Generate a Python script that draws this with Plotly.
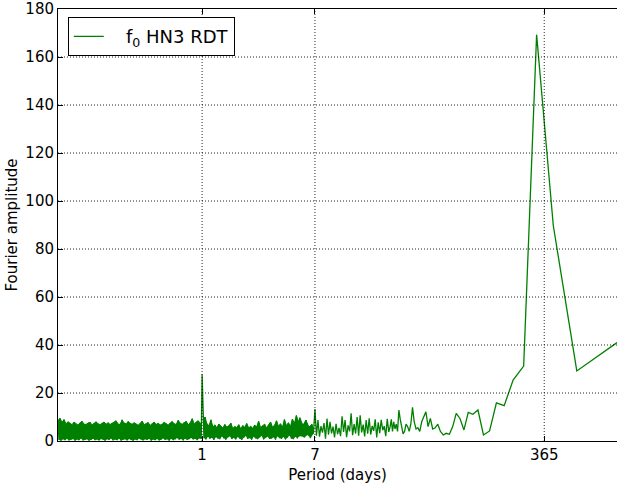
import numpy as np
import plotly.graph_objects as go

# Hourly record: shortest resolvable period is 2 h, longest is the record length
RECORD_DAYS = 1280.0
NYQUIST_PERIOD = 2.0 / 24.0

# Sub-daily band (2 h .. ~1 day): alternating local maxima / minima of the amplitude
a1_peaks = [
    8.5, 9.5, 7.8, 8.9, 7.2, 8.0,
    7.4, 6.8, 7.9, 7.1, 6.6, 7.6, 8.2, 7.0, 6.9, 7.5,
    7.8, 6.7, 7.3, 8.0, 7.2, 6.8, 7.4, 7.9, 7.0, 7.6,
    6.9, 7.3,
    7.7, 8.4, 7.1, 6.9, 8.8, 7.5, 7.2, 8.1, 7.4, 7.0,
    7.6, 7.0, 6.6, 7.3, 8.3, 6.8, 7.1, 7.7, 6.5, 7.2,
    7.9, 6.9, 7.4, 6.7, 7.0, 7.8, 7.3, 6.6, 7.5, 8.1,
    7.2, 6.9, 8.6, 7.4, 7.0, 7.8, 8.2, 6.8, 7.6, 9.3, 7.1, 7.9, 8.4, 7.5,
]
a1_troughs = [
    0.4, 0.1, 0.7, 0.3, 0.9, 0.2, 0.5, 0.8, 0.1, 0.6,
    0.3, 1.0, 0.2, 0.5, 0.7, 0.1, 0.4, 0.9, 0.3, 0.6,
    0.2, 0.8, 0.5, 0.1, 0.7, 0.4, 1.0, 0.2, 0.6, 0.3,
    0.9, 0.1, 0.5, 0.7, 0.2, 0.8, 0.4, 0.1, 0.6, 0.3,
    1.0, 0.5, 0.2, 0.7, 0.4, 0.9, 0.1, 0.6, 0.3, 0.8,
    0.2, 0.5, 1.1, 0.4, 0.7, 0.1, 0.9, 0.3, 0.6, 1.2,
    0.5, 0.8, 0.2, 1.0, 0.4, 0.7, 1.3, 0.6, 0.9, 0.3,
    1.1, 0.8,
]

# Diurnal line
diurnal_period = 1.0
diurnal_amp = 27.8

# 1 day .. ~5.4 days
a2_peaks = [
    8.5, 10.0, 7.2, 6.4, 8.8, 5.9, 6.7, 5.5, 7.1, 6.2,
    5.4, 6.9, 5.8, 6.3, 7.5, 5.2, 6.0, 5.6, 6.8, 5.1,
    6.4, 5.7, 7.3, 5.5, 6.1, 5.3, 6.6, 5.9, 8.2, 5.6,
    6.3, 7.0, 5.4, 6.8, 7.9, 5.8, 6.5, 8.4, 6.1, 7.2,
    5.7, 8.9, 6.4, 7.6, 6.0, 9.1, 7.3, 10.6, 8.0,
]
a2_troughs = [
    1.2, 0.6, 1.8, 0.9, 1.4, 0.4, 1.6, 1.0, 0.7, 1.9,
    1.1, 0.5, 1.5, 2.0, 0.8, 1.3, 0.6, 1.7, 1.0, 0.4,
    1.4, 2.1, 0.9, 1.2, 0.5, 1.8, 1.1, 0.7, 1.5, 2.2,
    0.6, 1.3, 1.9, 0.8, 1.0, 1.6, 0.5, 2.0, 1.2, 0.9,
    1.7, 0.6, 1.4, 2.3, 1.0, 0.7, 1.8, 1.1, 2.0,
]

# ~5.4 .. 25 days (alternating maxima / minima)
mid_amp = [
    9.7, 2.0, 6.5, 1.5, 8.7, 2.5, 5.8, 1.2, 7.0, 3.0,
    13.3, 2.2, 8.7, 1.8, 6.2, 3.5, 7.5, 1.0, 9.3, 2.6,
    8.0, 3.2, 6.0, 1.5, 7.2, 2.8, 5.5, 2.0, 10.3, 3.8,
    8.7, 1.6, 6.5, 4.0, 11.5, 2.4, 7.0, 3.1, 10.0, 2.2,
    10.7, 3.6, 6.8, 1.9, 8.7, 3.0, 9.5, 2.7, 6.3, 4.2,
    9.0, 1.5, 7.8, 3.3, 8.8, 4.5, 6.2, 2.0, 9.2, 3.8,
]
MID_SOLID = 10  # leading mid values that still merge into a solid band

# Lowest harmonics k = 1 .. 50 (period = RECORD_DAYS / k)
low_harmonic_amp = [
    41.0, 29.2, 89.8, 169.3, 31.2, 25.4, 14.7, 15.9, 4.2, 2.5,
    12.9, 11.1, 11.9, 4.6, 9.4, 11.5, 6.0, 2.8, 3.2, 2.5,
    4.0, 7.0, 5.5, 5.0, 9.4, 6.0, 12.2, 10.0, 8.0, 4.0,
    5.5, 5.0, 8.0, 14.0, 7.0, 4.0, 6.0, 7.0, 4.0, 3.0,
    5.0, 9.0, 12.9, 4.0, 7.0, 5.0, 8.0, 4.0, 9.0, 6.0,
]

x_ticks = [1, 7, 365]
x_ticktext = ["1", "7", "365"]
y_ticks = list(range(0, 181, 20))
x_minor = ([0.09] + [m * 0.1 for m in range(2, 10)] + [m for m in range(2, 10) if m != 7]
           + [m * 10 for m in range(2, 10)] + [m * 100 for m in range(2, 10)])

GREEN = "#008000"
NBSP = "\u00a0"


def interleave(hi, lo):
    return np.column_stack((hi, lo)).ravel()


a1_amp = interleave(a1_peaks, a1_troughs)
a2_amp = interleave(a2_peaks, a2_troughs)
a1_period = np.geomspace(NYQUIST_PERIOD, 0.985, len(a1_amp))
a2_period = np.geomspace(1.015, 5.35, len(a2_amp))
mid_period = np.geomspace(5.4, 25.0, len(mid_amp))
harmonic = np.arange(1, len(low_harmonic_amp) + 1)
low_period = RECORD_DAYS / harmonic

period = np.concatenate([a1_period, [diurnal_period], a2_period, mid_period, low_period[::-1]])
amplitude = np.concatenate([a1_amp, [diurnal_amp], a2_amp, mid_amp, np.array(low_harmonic_amp)[::-1]])

FONT = dict(family="DejaVu Sans", size=15, color="black")
x_range = [np.log10(NYQUIST_PERIOD), np.log10(RECORD_DAYS)]

fig = go.Figure()

# Densely sampled part of the spectrum: shade between the minima and the maxima
band_sections = [
    (a1_period, a1_amp),
    (np.concatenate([a2_period, mid_period[:MID_SOLID]]),
     np.concatenate([a2_amp, mid_amp[:MID_SOLID]])),
]
for per, amp in band_sections:
    fig.add_trace(go.Scatter(
        x=per[1::2], y=amp[1::2], mode="lines", line=dict(width=0, color=GREEN),
        showlegend=False, hoverinfo="skip",
    ))
    fig.add_trace(go.Scatter(
        x=per[0::2], y=amp[0::2], mode="lines", line=dict(width=1, color=GREEN),
        fill="tonexty", fillcolor=GREEN, showlegend=False, hoverinfo="skip",
    ))

fig.add_trace(go.Scatter(
    x=period, y=amplitude, mode="lines",
    line=dict(color=GREEN, width=1.3),
    name=NBSP * 3 + "f<sub>0</sub> HN3 RDT",
))

grid_style = dict(color="rgba(0,0,0,0.85)", width=1, dash="1px,2px")
shapes = []
for yv in y_ticks[1:-1]:
    shapes.append(dict(type="line", xref="paper", x0=0, x1=1, yref="y", y0=yv, y1=yv,
                       line=grid_style, layer="above"))
for xv in x_ticks:
    shapes.append(dict(type="line", xref="x", x0=xv, x1=xv, yref="paper", y0=0, y1=1,
                       line=grid_style, layer="above"))

fig.update_layout(
    width=617, height=486,
    margin=dict(l=58, r=0, t=9, b=45),
    paper_bgcolor="white", plot_bgcolor="white",
    font=FONT,
    shapes=shapes,
    showlegend=True,
    legend=dict(
        x=0.0175, y=0.981, xanchor="left", yanchor="top",
        bgcolor="white", bordercolor="black", borderwidth=1,
        font=dict(family="DejaVu Sans", size=18, color="black"),
    ),
    xaxis=dict(
        type="log", range=x_range,
        tickvals=x_ticks, ticktext=x_ticktext,
        ticks="inside", ticklen=5, tickwidth=1, tickcolor="black",
        showline=True, linecolor="black", linewidth=1, mirror="ticks",
        showgrid=False, zeroline=False, automargin=False,
        tickfont=FONT,
        title=dict(text="Period (days)", font=FONT, standoff=6),
    ),
    xaxis2=dict(
        type="log", range=x_range, overlaying="x", anchor="y",
        tickvals=x_minor, ticks="inside", ticklen=2.5, tickwidth=1, tickcolor="black",
        showticklabels=False, showgrid=False, zeroline=False, mirror="ticks",
        showline=False,
    ),
    yaxis=dict(
        range=[0, 180], tickvals=y_ticks,
        ticks="inside", ticklen=5, tickwidth=1, tickcolor="black",
        showline=True, linecolor="black", linewidth=1, mirror=False,
        showgrid=False, zeroline=False, automargin=False,
        tickfont=FONT,
        title=dict(text="Fourier amplitude", font=FONT, standoff=4),
    ),
    yaxis2=dict(
        range=[0, 180], tickvals=y_ticks, overlaying="y", side="right", anchor="x",
        ticks="inside", ticklen=5, tickwidth=1, tickcolor="black",
        showticklabels=False, showgrid=False, zeroline=False, showline=False,
    ),
)

fig.write_html("out.html")
